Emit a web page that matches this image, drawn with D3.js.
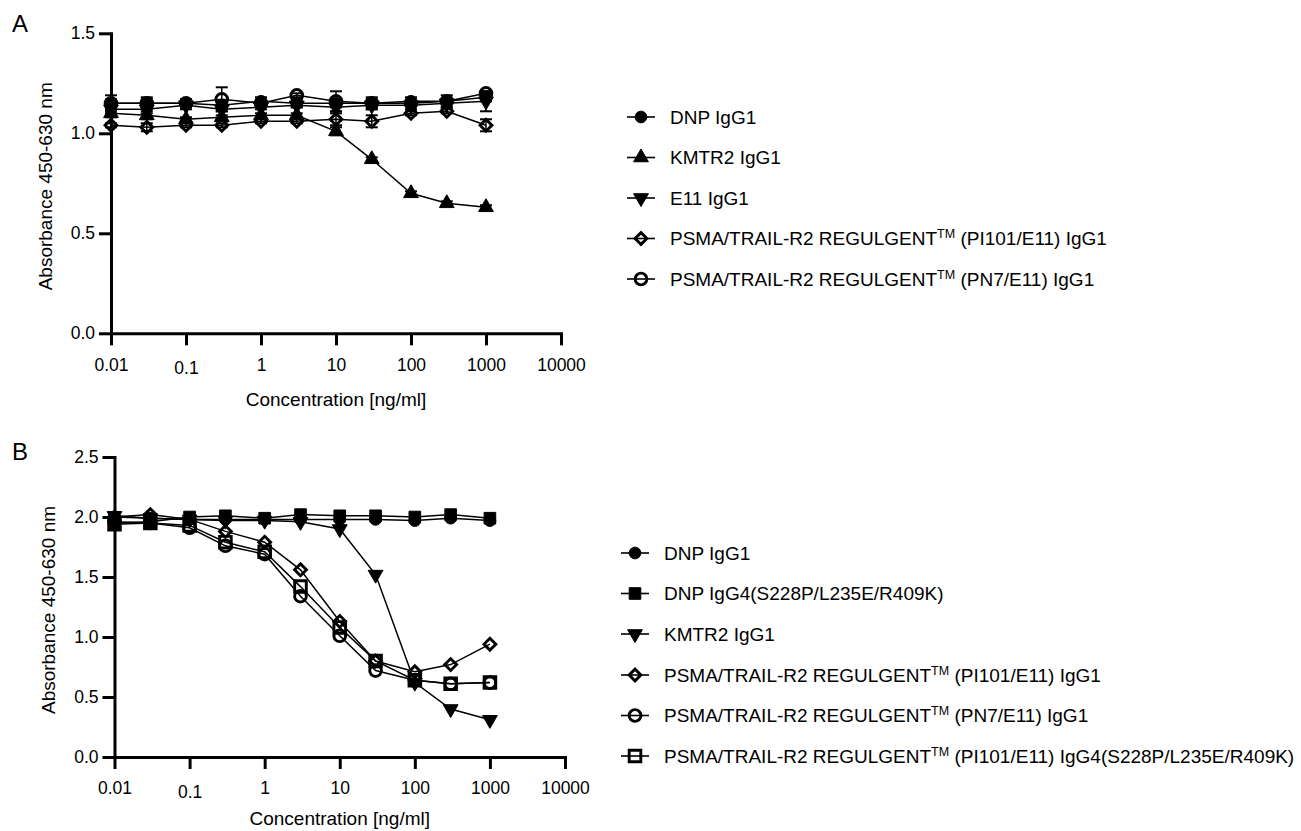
<!DOCTYPE html>
<html>
<head>
<meta charset="utf-8">
<script src="https://cdn.jsdelivr.net/npm/d3@7"></script>
<style>
  body { margin: 0; background: #fff; }
  svg { font-family: "Liberation Sans", Arial, Helvetica, sans-serif; }
</style>
</head>
<body>
<svg id="chart" width="1301" height="831"></svg>
<script>
// concentrations (ng/ml) shared by both panels
const conc = [0.01, 0.03, 0.1, 0.3, 1, 3, 10, 30, 100, 300, 1000];
const xTickValues = [0.01, 0.1, 1, 10, 100, 1000, 10000];
const xTickLabels = ["0.01", "0.1", "1", "10", "100", "1000", "10000"];

// panel A
const yTicksA = [0, 0.5, 1.0, 1.5];
const yTickLabelsA = ["0.0", "0.5", "1.0", "1.5"];
const aDNP = [1.15, 1.15, 1.15, 1.14, 1.16, 1.15, 1.15, 1.15, 1.16, 1.16, 1.18];
const aDNPerr = [0.04, 0.03, 0.02, 0.02, 0.02, 0.02, 0.02, 0.03, 0.02, 0.03, 0.02];
const aKMTR2 = [1.10, 1.09, 1.07, 1.08, 1.09, 1.09, 1.01, 0.87, 0.70, 0.65, 0.63];
const aKMTR2err = [0.02, 0.02, 0.01, 0.01, 0.01, 0.01, 0.02, 0.01, 0.01, 0.01, 0.01];
const aE11 = [1.12, 1.12, 1.14, 1.12, 1.13, 1.14, 1.13, 1.14, 1.14, 1.15, 1.16];
const aE11err = [0.02, 0.02, 0.02, 0.01, 0.01, 0.01, 0.02, 0.02, 0.02, 0.02, 0.05];
const aPI101 = [1.04, 1.03, 1.04, 1.04, 1.06, 1.06, 1.07, 1.06, 1.10, 1.11, 1.04];
const aPI101err = [0.01, 0.02, 0.01, 0.01, 0.01, 0.01, 0.03, 0.03, 0.01, 0.01, 0.03];
const aPN7 = [1.15, 1.15, 1.15, 1.17, 1.15, 1.19, 1.16, 1.15, 1.15, 1.16, 1.20];
const aPN7err = [0.02, 0.02, 0.02, 0.06, 0.01, 0.01, 0.05, 0.02, 0.01, 0.01, 0.01];

// panel B
const yTicksB = [0, 0.5, 1.0, 1.5, 2.0, 2.5];
const yTickLabelsB = ["0.0", "0.5", "1.0", "1.5", "2.0", "2.5"];
const bDNP1 = [2.00, 1.99, 1.98, 1.98, 1.98, 1.98, 1.98, 1.98, 1.97, 1.99, 1.97];
const bDNP4 = [1.95, 1.96, 2.00, 2.01, 1.99, 2.02, 2.01, 2.01, 2.00, 2.02, 1.99];
const bKMTR2 = [2.01, 1.99, 1.98, 1.97, 1.97, 1.96, 1.90, 1.52, 0.62, 0.40, 0.31];
const bPI101 = [2.00, 2.02, 1.98, 1.88, 1.79, 1.56, 1.13, 0.80, 0.71, 0.77, 0.94];
const bPN7 = [1.96, 1.95, 1.91, 1.76, 1.69, 1.34, 1.01, 0.72, 0.64, 0.61, 0.62];
const bPI101g4 = [1.94, 1.95, 1.93, 1.79, 1.71, 1.42, 1.08, 0.80, 0.64, 0.61, 0.62];

const seriesA = [
  {pre: "DNP IgG1", post: "", shape: "circle", open: false, v: aDNP, err: aDNPerr},
  {pre: "KMTR2 IgG1", post: "", shape: "triUp", open: false, v: aKMTR2, err: aKMTR2err},
  {pre: "E11 IgG1", post: "", shape: "triDown", open: false, v: aE11, err: aE11err},
  {pre: "PSMA/TRAIL-R2 REGULGENT", post: " (PI101/E11) IgG1", shape: "diamond", open: true, v: aPI101, err: aPI101err},
  {pre: "PSMA/TRAIL-R2 REGULGENT", post: " (PN7/E11) IgG1", shape: "circle", open: true, v: aPN7, err: aPN7err}
];
const seriesB = [
  {pre: "DNP IgG1", post: "", shape: "circle", open: false, v: bDNP1},
  {pre: "DNP IgG4(S228P/L235E/R409K)", post: "", shape: "square", open: false, v: bDNP4},
  {pre: "KMTR2 IgG1", post: "", shape: "triDown", open: false, v: bKMTR2},
  {pre: "PSMA/TRAIL-R2 REGULGENT", post: " (PI101/E11) IgG1", shape: "diamond", open: true, v: bPI101},
  {pre: "PSMA/TRAIL-R2 REGULGENT", post: " (PN7/E11) IgG1", shape: "circle", open: true, v: bPN7},
  {pre: "PSMA/TRAIL-R2 REGULGENT", post: " (PI101/E11) IgG4(S228P/L235E/R409K)", shape: "square", open: true, v: bPI101g4}
];

const svg = d3.select("#chart");

// marker path + rotation per shape
function marker(shape) {
  if (shape == "circle") return {d: d3.symbol(d3.symbolCircle, 108)(), rot: 0};
  if (shape == "square") return {d: d3.symbol(d3.symbolSquare, 135)(), rot: 0};
  if (shape == "triUp") return {d: d3.symbol(d3.symbolTriangle, 95)(), rot: 0};
  if (shape == "triDown") return {d: d3.symbol(d3.symbolTriangle, 95)(), rot: 180};
  return {d: d3.symbol(d3.symbolSquare, 70)(), rot: 45}; // diamond
}

function drawMarker(g, s, x, y) {
  let m = marker(s.shape);
  g.append("path")
    .attr("d", m.d)
    .attr("transform", `translate(${x},${y}) rotate(${m.rot})`)
    .attr("fill", s.open ? "none" : "#000")
    .attr("stroke", "#000")
    .attr("stroke-width", s.open ? 2.9 : 1);
}

function drawPanel(p) {
  let x = d3.scaleLog().domain([0.01, 10000]).range([p.x0, p.x1]);
  let y = d3.scaleLinear().domain([0, p.ymax]).range([p.y0, p.y1]);

  // series: line, error bars, markers
  p.series.slice().reverse().forEach(function(s) {
    let g = svg.append("g");
    let pts = conc.map((c, i) => [x(c), y(s.v[i])]);
    g.append("path")
      .attr("d", d3.line()(pts))
      .attr("fill", "none")
      .attr("stroke", "#000")
      .attr("stroke-width", 1.5);
    if (s.err) {
      conc.forEach(function(c, i) {
        let cx = x(c), lo = y(s.v[i] - s.err[i]), hi = y(s.v[i] + s.err[i]);
        g.append("line").attr("x1", cx).attr("x2", cx).attr("y1", lo).attr("y2", hi)
          .attr("stroke", "#000").attr("stroke-width", 1.5);
        [lo, hi].forEach(function(yy) {
          g.append("line").attr("x1", cx - 6).attr("x2", cx + 6).attr("y1", yy).attr("y2", yy)
            .attr("stroke", "#000").attr("stroke-width", 2);
        });
      });
    }
    conc.forEach(function(c, i) { drawMarker(g, s, x(c), y(s.v[i])); });
  });

  // axes
  let xAxis = d3.axisBottom(x).tickValues(xTickValues)
    .tickFormat((d, i) => xTickLabels[i]).tickSize(12).tickSizeOuter(0).tickPadding(13);
  let gx = svg.append("g").attr("transform", `translate(0,${p.y0})`).call(xAxis);
  let yAxis = d3.axisLeft(y).tickValues(p.yTicks)
    .tickFormat((d, i) => p.yLabels[i]).tickSize(12).tickSizeOuter(0).tickPadding(4);
  let gy = svg.append("g").attr("transform", `translate(${p.x0},0)`).call(yAxis);
  [gx, gy].forEach(function(g) {
    g.select(".domain").attr("stroke-width", 3).attr("stroke-linecap", "square");
    g.selectAll(".tick line").attr("stroke-width", 3);
    g.selectAll("text").attr("font-size", 17.5).attr("font-family", null).attr("fill", "#000");
  });
  gx.selectAll(".tick text").filter(d => d == 0.1).attr("dy", "0.9em");

  // axis titles
  svg.append("text")
    .attr("x", (p.x0 + p.x1) / 2).attr("y", p.y0 + p.xlabDy)
    .attr("text-anchor", "middle").attr("font-size", 19)
    .text("Concentration [ng/ml]");
  svg.append("text")
    .attr("transform", `translate(${p.ylabX},${(p.y0 + p.y1) / 2 + 3}) rotate(-90)`)
    .attr("text-anchor", "middle").attr("font-size", 19)
    .text("Absorbance 450-630 nm");

  // panel letter
  svg.append("text").attr("x", 12).attr("y", p.letterY)
    .attr("font-size", 24).text(p.letter);

  // legend
  p.series.forEach(function(s, i) {
    let ly = p.legY[i];
    let g = svg.append("g");
    g.append("line").attr("x1", p.legX - 14).attr("x2", p.legX + 14)
      .attr("y1", ly).attr("y2", ly).attr("stroke", "#000").attr("stroke-width", 1.6);
    drawMarker(g, s, p.legX, ly);
    let t = g.append("text").attr("x", p.legX + 29).attr("y", ly + 6.5).attr("font-size", 19);
    t.append("tspan").text(s.pre);
    if (s.post) {
      t.append("tspan").attr("font-size", 12.5).attr("dy", -7).text("TM");
      t.append("tspan").attr("dy", 7).text(s.post);
    }
  });
}

drawPanel({
  letter: "A", letterY: 32, series: seriesA,
  x0: 111, x1: 561, y0: 333.3, y1: 33.3, ymax: 1.5,
  yTicks: yTicksA, yLabels: yTickLabelsA, ylabX: 52, xlabDy: 73,
  legX: 641, legY: [117, 157.5, 198, 238.5, 279]
});
drawPanel({
  letter: "B", letterY: 460, series: seriesB,
  x0: 114.5, x1: 565, y0: 757, y1: 457, ymax: 2.5,
  yTicks: yTicksB, yLabels: yTickLabelsB, ylabX: 55, xlabDy: 68,
  legX: 635, legY: [553, 593.5, 634, 675, 715.5, 756]
});
</script>
</body>
</html>
